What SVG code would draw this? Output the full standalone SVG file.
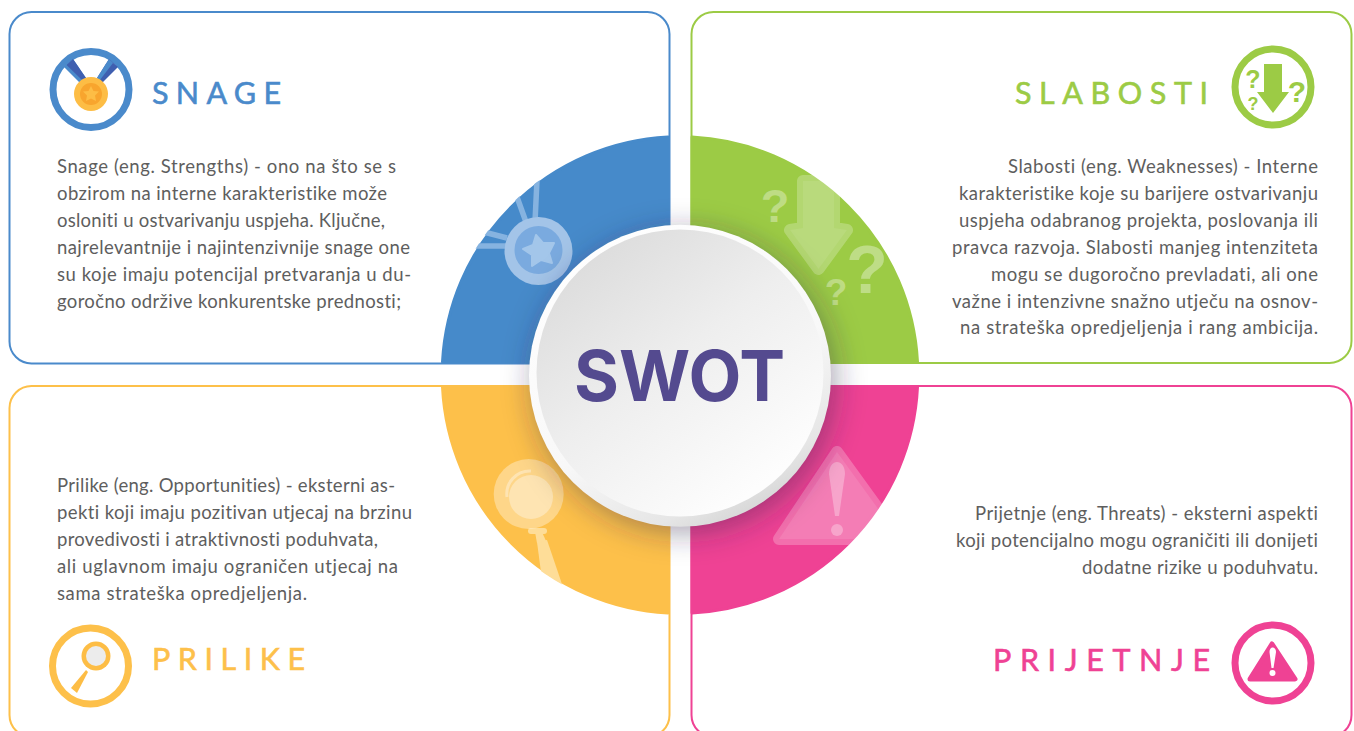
<svg xmlns="http://www.w3.org/2000/svg" width="1354" height="731" viewBox="0 0 1354 731">
<style>
text{font-variant-ligatures:none}
.b{font-family:"Lato","Noto Sans",sans-serif;font-size:18.5px;fill:#5e5e5e}
.t{font-family:"Lato","Noto Sans",sans-serif;font-size:30.500px;stroke-width:.6}
.frame{fill:none;stroke-width:2;}
.ring{fill:none;stroke-width:7}
.q{font-family:"Liberation Sans",Arial,sans-serif;font-weight:700;text-anchor:middle}
</style>
<defs>
<clipPath id="cb"><path d="M440 364A240 240 0 0 1 670 135V364Z"/></clipPath>
<clipPath id="cg"><path d="M920 364A240 240 0 0 0 690 135V364Z"/></clipPath>
<clipPath id="cy"><path d="M440 385A240 240 0 0 0 670 615V385Z"/></clipPath>
<clipPath id="cp"><path d="M920 385A240 240 0 0 1 690 615V385Z"/></clipPath>
<linearGradient id="rim" x1=".15" y1="0" x2=".7" y2="1"><stop offset="0" stop-color="#fff"/><stop offset=".6" stop-color="#f8f8f8"/><stop offset=".88" stop-color="#e6e6e6"/><stop offset="1" stop-color="#d4d4d4"/></linearGradient>
<linearGradient id="face" x1=".05" y1=".1" x2=".7" y2=".95"><stop offset="0" stop-color="#dadada"/><stop offset=".5" stop-color="#eeeeee"/><stop offset="1" stop-color="#fdfdfd"/></linearGradient>
<filter id="sh" x="-30%" y="-30%" width="160%" height="160%"><feGaussianBlur stdDeviation="15"/></filter>
</defs>
<rect width="1354" height="731" fill="#fff"/>

<g id="snage">
<rect class="frame" x="9.5" y="12" width="660" height="351.500" rx="22" stroke="#4a8acb"/>
<path d="M442.500 362A238 238 0 0 1 668 137V362Z" fill="#468aca" stroke="#468aca" stroke-width="3" stroke-linejoin="round"/>
<g clip-path="url(#cb)">
<path d="M517 197L526 222M537 180L535 222M476 230L507 238M474 246L506 246" stroke="#86b3e0" stroke-width="5.500" fill="none"/>
<circle cx="538.500" cy="251" r="34" fill="#a3c4e8"/>
<circle cx="538.500" cy="250" r="24" fill="#7aaadf"/>
<path d="M536 235L543 243 554 243 549 253 552 263 541 260 532 266 532 255 523 249 533 245Z" fill="#a3c6ea" stroke="#a3c6ea" stroke-width="2" stroke-linejoin="round"/>
</g>
<circle cx="91" cy="89.500" r="38" class="ring" stroke="#4a8acb"/>
<path d="M64 67L73 59 86 78 80 83Z" fill="#4a8acb"/>
<path d="M66.500 65L73 59 86 78 83 81Z" fill="#3f5fb0"/>
<path d="M118 67L109 59 97 78 102 83Z" fill="#3f5fb0"/>
<path d="M113 63L109 59 97 78 99.500 80.500Z" fill="#4a8acb"/>
<circle cx="91" cy="94" r="17" fill="#fdbd45"/><circle cx="91" cy="94" r="11" fill="#f8a52e"/>
<path d="M91 86L93.500 91 99 91.500 95 95.500 96 101 91 98.500 86 101 87 95.500 83 91.500 88.500 91Z" fill="#fdbd45"/>
<text class="t" x="152" y="104" textLength="129" fill="#4a8acb" stroke="#4a8acb">SNAGE</text>
<text class="b" x="57" y="173" textLength="339">Snage (eng. Strengths) - ono na što se s</text>
<text class="b" x="57" y="200" textLength="330">obzirom na interne karakteristike može</text>
<text class="b" x="57" y="227" textLength="328">osloniti u ostvarivanju uspjeha. Ključne,</text>
<text class="b" x="57" y="253.500" textLength="353">najrelevantnije i najintenzivnije snage one</text>
<text class="b" x="57" y="280.500" textLength="354">su koje imaju potencijal pretvaranja u du-</text>
<text class="b" x="57" y="307.500" textLength="344">goročno održive konkurentske prednosti;</text>
</g>

<g id="slabosti">
<rect class="frame" x="691.500" y="12" width="660" height="351" rx="22" stroke="#9ccb45"/>
<path d="M917.500 362A238 238 0 0 0 692 137V362Z" fill="#9ccb45" stroke="#9ccb45" stroke-width="3" stroke-linejoin="round"/>
<g clip-path="url(#cg)">
<path d="M803 181H834V228L847 230 818.500 269 790 230 803 228Z" fill="#fff" stroke="#fff" stroke-width="12" stroke-linejoin="round" opacity=".24"/>
<path d="M803 181H834V228L847 230 818.500 269 790 230 803 228Z" fill="#fff" opacity=".08"/>
<text class="q" x="775" y="222" font-size="47" fill="#fff" fill-opacity=".35">?</text>
<text class="q" x="867" y="293" font-size="68" fill="#fff" fill-opacity=".35">?</text>
<text class="q" x="836" y="305" font-size="37" fill="#fff" fill-opacity=".35">?</text>
</g>
<circle cx="1273" cy="87" r="38" class="ring" stroke="#9ccb45"/>
<path d="M1264 64H1282V92H1289L1273 113 1257 92H1264Z" fill="#9ccb45"/>
<text class="q" x="1253" y="87.500" font-size="25" fill="#9ccb45">?</text>
<text class="q" x="1253" y="109.500" font-size="18" fill="#9ccb45">?</text>
<text class="q" x="1297" y="102" font-size="30" fill="#9ccb45">?</text>
<text class="t" x="1015" y="104" textLength="193" fill="#9ccb45" stroke="#9ccb45">SLABOSTI</text>
<text class="b" x="1008" y="173" textLength="310">Slabosti (eng. Weaknesses) - Interne</text>
<text class="b" x="959" y="200" textLength="359">karakteristike koje su barijere ostvarivanju</text>
<text class="b" x="959" y="227" textLength="359">uspjeha odabranog projekta, poslovanja ili</text>
<text class="b" x="952" y="253.500" textLength="366">pravca razvoja. Slabosti manjeg intenziteta</text>
<text class="b" x="991" y="280.500" textLength="327">mogu se dugoročno prevladati, ali one</text>
<text class="b" x="952" y="307.500" textLength="366">važne i intenzivne snažno utječu na osnov-</text>
<text class="b" x="960" y="333.500" textLength="358">na strateška opredjeljenja i rang ambicija.</text>
</g>

<g id="prilike">
<rect class="frame" x="9.500" y="386" width="660" height="351" rx="22" stroke="#fdc04a"/>
<path d="M442.500 387A238 238 0 0 0 668 613V387Z" fill="#fdc04a" stroke="#fdc04a" stroke-width="3" stroke-linejoin="round"/>
<g clip-path="url(#cy)">
<path d="M537 542L547 540 564 590 541 572Z" fill="#fedd98"/>
<path d="M535 532H542L546 541 537 543Z" fill="#fedd98"/>
<rect x="528" y="528" width="19" height="6" rx="3" fill="#fedd98"/>
<circle cx="528.700" cy="494" r="35" fill="#fff" fill-opacity=".35"/>
<circle cx="531" cy="497" r="22" fill="#fff" fill-opacity=".35"/>
<path d="M507 497A23 23 0 0 1 531 471" fill="none" stroke="#fff" stroke-opacity=".35" stroke-width="3"/>
</g>
<circle cx="90.500" cy="666" r="38" class="ring" stroke="#fdc04a"/>
<path d="M86 670L71 688 77 693 88 672Z" fill="#fdbd45"/>
<circle cx="96" cy="656" r="14.500" fill="#fdbd45"/><circle cx="96" cy="656" r="10" fill="#ececec"/>
<text class="t" x="152" y="670" textLength="153" fill="#fdc04a" stroke="#fdc04a">PRILIKE</text>
<text class="b" x="57" y="491.500" textLength="338">Prilike (eng. Opportunities) - eksterni as-</text>
<text class="b" x="57" y="518.500" textLength="355">pekti koji imaju pozitivan utjecaj na brzinu</text>
<text class="b" x="57" y="545.500" textLength="321">provedivosti i atraktivnosti poduhvata,</text>
<text class="b" x="57" y="572.500" textLength="341">ali uglavnom imaju ograničen utjecaj na</text>
<text class="b" x="57" y="599.500" textLength="250">sama strateška opredjeljenja.</text>
</g>

<g id="prijetnje">
<rect class="frame" x="691.500" y="386" width="660" height="351" rx="22" stroke="#ef4294"/>
<path d="M917.500 387A238 238 0 0 1 692 613V387Z" fill="#ef4294" stroke="#ef4294" stroke-width="3" stroke-linejoin="round"/>
<g clip-path="url(#cp)">
<path d="M837 452L900 539H779Z" fill="#fff" stroke="#fff" stroke-width="12" stroke-linejoin="round" opacity=".24"/>
<path d="M837 452L900 539H779Z" fill="#fff" opacity=".1"/>
<path d="M829 474C829 458 845 458 845 474L839 516H835Z" fill="#fff" fill-opacity=".3"/>
<circle cx="837" cy="530" r="6" fill="#fff" fill-opacity=".3"/>
</g>
<circle cx="1273" cy="663" r="38" class="ring" stroke="#ef4294"/>
<path d="M1272 644L1295 679H1250Z" fill="#ef4294" stroke="#ef4294" stroke-width="5" stroke-linejoin="round"/>
<path d="M1269.500 652C1269.500 646 1276 646 1276 652L1273.500 668H1271.500Z" fill="#fff"/>
<circle cx="1272.500" cy="673" r="3" fill="#fff"/>
<text class="t" x="993" y="671" textLength="217" fill="#ef4294" stroke="#ef4294">PRIJETNJE</text>
<text class="b" x="975" y="519.500" textLength="343">Prijetnje (eng. Threats) - eksterni aspekti</text>
<text class="b" x="956" y="546.500" textLength="362">koji potencijalno mogu ograničiti ili donijeti</text>
<text class="b" x="1082" y="573.500" textLength="236">dodatne rizike u poduhvatu.</text>
</g>

<g id="swot">
<circle cx="684" cy="382" r="151" fill="#2a2548" fill-opacity=".42" filter="url(#sh)"/>
<circle cx="680" cy="375.800" r="151" fill="url(#rim)"/>
<circle cx="680" cy="373" r="143.500" fill="url(#face)"/>
<text x="574" y="401" textLength="211" lengthAdjust="spacingAndGlyphs" font-family="Inter,'Open Sans',sans-serif" font-weight="700" font-size="70" fill="#544a8f">SWOT</text>
</g>
</svg>
